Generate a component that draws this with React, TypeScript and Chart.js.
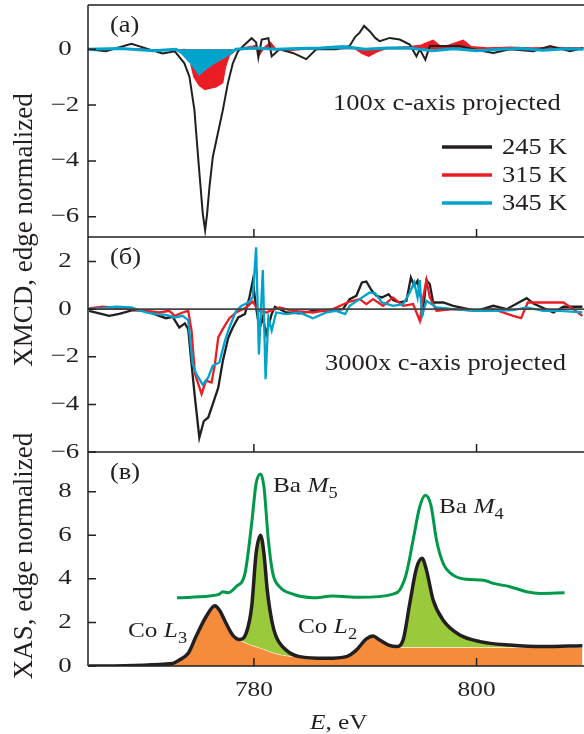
import React, { useEffect, useRef } from "react";
import { Chart, registerables } from "chart.js";
Chart.register(...registerables);

// ---------- Panel (а): XMCD, 100x c-axis projected ----------
const aE245 = [765.1,766.7,769.0,770.6,771.8,772.9,773.76,774.21,774.66,774.87,775.11,775.41,775.62,775.8,776.01,776.31,776.76,777.21,777.66,778.11,778.56,779.0,779.8,780.2,780.4,780.7,781.3,781.6,782.3,783.5,784.7,785.6,787.4,788.6,789.1,789.5,789.9,790.4,790.9,791.3,792.2,793.1,794.0,794.6,794.9,795.4,795.8,797.0,798.5,799.7,801.5,803.0,805.1,806.6,808.4,809.6];
const a245 = [0,-0.07,0.2,0,-0.15,-0.07,-0.5,-0.98,-2.18,-3.26,-4.46,-5.89,-6.49,-5.89,-4.93,-3.86,-3.02,-2.18,-1.22,-0.5,-0.08,0.1,0.4,0.25,-0.3,0.35,0.4,-0.25,0,-0.13,-0.35,0,0,0.12,0.45,0.6,0.84,0.65,0.41,0.29,0.41,0.35,0.17,-0.25,0,-0.37,0.12,0.12,0.12,0,-0.13,0,-0.07,0.12,-0.07,0.05];
const aE315 = [765.1,770.0,772.0,773.8,774.2,774.6,775.1,775.6,776.0,776.6,777.2,777.45,777.8,778.4,779.0,779.9,780.2,780.5,781.0,781.5,782.0,783.0,785.0,787.0,789.0,789.7,790.3,791.0,792.0,794.0,795.0,796.1,796.8,797.5,798.8,799.5,801.0,803.0,805.0,807.0,809.6];
const a315 = [0,0.02,-0.05,0,-0.3,-0.98,-1.3,-1.44,-1.4,-1.35,-1.2,-0.64,-0.22,-0.02,0.05,0.12,0.15,-0.2,0.1,0.25,0,-0.05,0.02,0,0.05,-0.15,-0.25,-0.1,0.05,0.1,0.15,0.33,0.1,0.15,0.33,0.1,0.05,0.08,0.05,0.07,0.05];
const aE345 = [765.1,768,771,773,773.5,774.3,775.1,775.6,776.3,777.2,777.8,778.4,780,782,784,786,788,790,792,794,796,798,800,802,804,806,808,809.6];
const a345 = [0,0.03,-0.05,0,-0.1,-0.45,-0.88,-0.7,-0.5,-0.3,-0.15,0,0.05,0,0.03,0.05,0.1,0,0.05,0.05,-0.05,0.02,-0.05,0,0.03,-0.03,0.02,0];

// ---------- Panel (б): XMCD, 3000x c-axis projected ----------
const bE245 = [765.2,767.0,767.9,769.1,770.3,771.5,772.1,772.7,773.3,773.8,774.1,774.4,774.7,775.1,775.5,775.9,776.3,776.8,777.2,777.7,778.1,778.6,779.2,779.6,779.9,780.2,780.5,780.8,781.1,781.6,781.9,782.9,784.1,785.3,786.5,788.0,788.6,789.2,789.7,790.1,790.6,791.0,791.5,792.1,792.5,793.1,793.7,794.1,794.4,794.7,795.2,795.5,795.8,796.1,797.0,797.9,800.0,801.5,802.7,804.5,805.1,806.9,807.8,809.5];
const b245 = [-0.07,-0.28,-0.2,-0.04,-0.07,-0.28,-0.38,-0.32,-0.77,-0.6,-0.84,-2.3,-3.7,-5.4,-4.7,-4.55,-4.0,-3.3,-2.2,-1.2,-0.77,-0.35,-0.2,0.5,1.2,0.07,-0.84,-0.35,-1.05,-0.2,0.1,-0.14,-0.18,-0.07,-0.07,0,0.42,0.56,1.12,1.16,0.77,0.56,0.49,0.63,0.38,0.28,0.35,1.33,0.98,1.19,0,1.22,1.05,0.28,0.28,0.14,-0.07,0.14,0,0.46,0.24,-0.14,0.1,0.1];
const bE315 = [765.2,766.4,769.1,771.5,772.4,772.9,773.6,774.1,774.4,774.7,775.3,775.7,776.2,776.5,776.8,777.2,777.8,778.4,779.3,779.9,780.4,781.1,782.3,783.5,785.3,787.1,788.6,789.5,790.1,790.7,791.6,792.5,793.4,794.3,794.9,795.2,795.5,795.8,796.4,797.9,800.0,801.5,803.3,804.0,804.6,806.0,807.8,808.7,809.5];
const b315 = [0.03,0.1,0,-0.14,-0.07,-0.28,-0.14,-0.07,-0.9,-2.7,-3.57,-3.0,-3.08,-2.3,-1.19,-0.84,-0.38,-0.14,0.07,0.32,-0.07,-0.14,0.07,-0.07,-0.14,0,0.32,0.42,0.21,0.42,0.14,0.49,0.14,0.21,-0.49,0.49,1.22,0.49,-0.07,0,-0.07,0,-0.28,-0.38,0.28,0.28,0.28,0,-0.28];
const bE345 = [765.2,766.4,767.6,769.0,770.3,771.2,772.1,772.9,773.6,774.1,774.5,774.8,775.4,775.9,776.3,776.9,777.4,777.8,778.4,778.9,779.5,779.9,780.2,780.45,780.8,781.05,781.3,781.6,782.0,782.9,784.1,785.3,786.5,787.4,788.2,788.6,789.5,790.4,790.9,791.5,792.5,793.4,794.0,794.4,794.7,794.9,795.1,795.5,796.4,797.9,800.0,801.5,803.3,804.5,806.0,807.5,809.5];
const b345 = [0,0.04,0.1,0.07,-0.14,-0.21,-0.24,-0.35,-0.28,-0.46,-2.3,-2.7,-3.17,-2.87,-2.38,-2.24,-1.33,-0.77,-0.07,0.14,0.28,0.49,2.6,-1.9,1.64,-2.94,-0.35,-0.9,-0.14,-0.21,-0.14,-0.38,-0.14,-0.07,-0.21,0.14,0.42,0.7,0.66,0.28,0.14,0.21,0.7,1.12,0.49,1.22,-0.28,0.35,0.07,0,-0.07,-0.07,-0.04,0.07,-0.07,-0.07,-0.14];

// ---------- Panel (в): XAS ----------
const cE = [765.2,772.7,773.3,774.1,774.8,775.7,776.5,776.9,777.5,778.1,778.7,779.3,779.8,780.2,780.6,780.9,781.2,781.6,782.0,782.9,784.1,786.5,788.3,789.2,790.1,790.7,791.3,792.1,792.8,793.4,794.0,794.6,795.1,795.5,796.1,797.0,798.5,800.3,803.0,806.0,809.5];
const cTotal = [0,0.12,0.28,0.58,1.35,2.26,2.77,2.57,1.96,1.42,1.22,1.5,2.72,5.17,6.0,5.17,3.49,2.1,1.35,0.73,0.43,0.35,0.43,0.73,1.24,1.38,1.19,0.96,0.89,1.19,2.87,4.48,4.94,4.4,3.03,2.1,1.42,1.12,0.96,0.89,0.93];
const cCo = [0,0.12,0.28,0.58,1.35,2.26,2.77,2.57,1.96,1.42,1.2,1.05,0.95,0.88,0.82,0.77,0.7,0.63,0.57,0.47,0.42,0.35,0.43,0.73,1.24,1.38,1.19,0.96,0.88,0.86,0.86,0.86,0.86,0.86,0.86,0.86,0.86,0.86,0.86,0.86,0.86];
const gE = [773.1,776.0,776.9,777.2,777.7,778.4,779.2,779.8,780.2,780.6,780.9,781.3,781.7,782.3,783.5,785.3,787.1,789.5,792.5,793.1,793.7,794.3,794.9,795.4,795.9,796.4,797.0,797.9,799.1,800.6,801.5,803.0,804.5,805.7,807.9];
const gBa = [3.13,3.21,3.3,3.41,3.36,3.64,4.25,6.54,8.38,8.81,8.23,5.78,4.25,3.64,3.3,3.13,3.21,3.15,3.3,3.49,4.25,5.78,7.31,7.84,7.38,5.78,4.71,4.17,3.98,3.94,3.79,3.64,3.41,3.33,3.36];

// ---------- Axes ----------
const eRange = [765.1, 809.65];
const aRange = [-6.73, 1.59];
const bRange = [-6, 3.03];
const cRange = [0, 9.82];
const eTicks = [780, 800];
const aTicks = [0, -2, -4, -6];
const bTicks = [2, 0, -2, -4, -6];
const cTicks = [0, 2, 4, 6, 8];
const seriesLabels = ["245 K", "315 K", "345 K"];

const INK = "#231f20";
const RED = "#ec1c24";
const CYAN = "#00a3cc";
const GREEN = "#00994a";
const GREEN_FILL = "#9bc93c";
const ORANGE = "#f58c3c";
const FONT = '"Liberation Serif", "Times New Roman", serif';
const SX = 1.15;

type Opt = { italic?: boolean; align?: CanvasTextAlign; baseline?: CanvasTextBaseline; sx?: number };
function drawText(ctx: CanvasRenderingContext2D, s: string, x: number, y: number, size: number, o: Opt = {}) {
  ctx.save();
  ctx.font = `${o.italic ? "italic " : ""}${size}px ${FONT}`;
  ctx.fillStyle = INK;
  ctx.textAlign = o.align ?? "left";
  ctx.textBaseline = o.baseline ?? "alphabetic";
  const sx = o.sx ?? SX;
  const w = ctx.measureText(s).width * sx;
  ctx.translate(x, y);
  ctx.scale(sx, 1);
  ctx.fillText(s, 0, 0);
  ctx.restore();
  return w;
}
// runs: [text, size, italic, dy]
function drawRuns(ctx: CanvasRenderingContext2D, runs: [string, number, boolean, number][], x: number, y: number) {
  let cx = x;
  for (const [t, s, it, dy] of runs) cx += drawText(ctx, t, cx, y + dy, s, { italic: it });
}
const fmt = (v: number) => (v < 0 ? "\u2212" + Math.abs(v) : String(v));

const overlay = {
  id: "overlay",
  afterDatasetsDraw(chart: any) {
    const ctx: CanvasRenderingContext2D = chart.ctx;
    const { left, right } = chart.chartArea;
    const sx = chart.scales.x;
    const panels = [
      { s: chart.scales.yA, ticks: aTicks, label: "(a)" },
      { s: chart.scales.yB, ticks: bTicks, label: "(\u0431)" },
      { s: chart.scales.yC, ticks: cTicks, label: "(\u0432)" },
    ];
    ctx.save();
    // zero line in panel б
    const z = chart.scales.yB.getPixelForValue(0);
    ctx.beginPath(); ctx.moveTo(left, z); ctx.lineTo(right, z); ctx.lineWidth = 1.8; ctx.strokeStyle = "#444"; ctx.stroke();
    ctx.strokeStyle = INK; ctx.lineWidth = 1.5;
    // frame
    ctx.beginPath();
    ctx.moveTo(left, panels[0].s.top); ctx.lineTo(right, panels[0].s.top);
    ctx.moveTo(left, panels[0].s.top); ctx.lineTo(left, panels[2].s.bottom);
    for (const p of panels) { ctx.moveTo(left, p.s.bottom); ctx.lineTo(right, p.s.bottom); }
    ctx.stroke();
    // ticks
    ctx.beginPath();
    for (const p of panels) {
      for (const v of p.ticks) { const y = p.s.getPixelForValue(v); ctx.moveTo(left, y); ctx.lineTo(left + 8, y); }
      for (const v of eTicks) { const x = sx.getPixelForValue(v); ctx.moveTo(x, p.s.bottom); ctx.lineTo(x, p.s.bottom - 8); }
    }
    ctx.stroke();
    ctx.restore();

    // tick labels
    for (const p of panels) {
      for (const v of p.ticks) drawText(ctx, fmt(v), 65, p.s.getPixelForValue(v), 21, { align: "center", baseline: "middle", sx: 1.28 });
      drawText(ctx, p.label, 110, p.s.top + 21, 23, { baseline: "middle" });
    }
    for (const v of eTicks) drawText(ctx, String(v), sx.getPixelForValue(v), 690, 22, { align: "center", baseline: "middle" });
    drawRuns(ctx, [["E", 22, true, 0], [", eV", 22, false, 0]], 310, 729);

    // rotated axis titles
    const rot = (s: string, cy: number) => {
      ctx.save();
      ctx.translate(32, cy);
      ctx.rotate(-Math.PI / 2);
      ctx.font = `27px ${FONT}`;
      ctx.fillStyle = INK;
      ctx.textAlign = "center";
      ctx.textBaseline = "alphabetic";
      ctx.fillText(s, 0, 0);
      ctx.restore();
    };
    rot("XMCD, edge normalized", 230);
    rot("XAS, edge normalized", 556);

    // annotations
    drawText(ctx, "100x c-axis projected", 333, 110, 23);
    drawText(ctx, "3000x c-axis projected", 325, 370, 23);
    drawRuns(ctx, [["Ba ", 22, false, 0], ["M", 22, true, 0], ["5", 16, false, 6]], 273, 492);
    drawRuns(ctx, [["Ba ", 22, false, 0], ["M", 22, true, 0], ["4", 16, false, 6]], 439, 513);
    drawRuns(ctx, [["Co ", 22, false, 0], ["L", 22, true, 0], ["3", 16, false, 6]], 128, 637);
    drawRuns(ctx, [["Co ", 22, false, 0], ["L", 22, true, 0], ["2", 16, false, 6]], 298, 633);

    // legend
    const cols = [INK, RED, CYAN];
    const ly = [147, 175, 203];
    seriesLabels.forEach((t, i) => {
      ctx.save();
      ctx.strokeStyle = cols[i]; ctx.lineWidth = 3.5;
      ctx.beginPath(); ctx.moveTo(442, ly[i]); ctx.lineTo(492, ly[i]); ctx.stroke();
      ctx.restore();
      drawText(ctx, t, 502, ly[i] + 1, 23, { baseline: "middle" });
    });
  },
};

const pts = (xs: number[], ys: number[]) => xs.map((x, i) => ({ x, y: ys[i] }));

export default function App() {
  const ref = useRef<HTMLCanvasElement>(null);
  useEffect(() => {
    const base = { pointRadius: 0, tension: 0 };
    // dataset 0 is drawn last (on top)
    const datasets: any[] = [
      { ...base, data: pts(aE345, a345), yAxisID: "yA", borderColor: CYAN, backgroundColor: CYAN, borderWidth: 3, fill: "origin" },
      { ...base, data: pts(aE245, a245), yAxisID: "yA", borderColor: INK, borderWidth: 2, fill: false },
      { ...base, data: pts(aE315, a315), yAxisID: "yA", borderColor: RED, backgroundColor: RED, borderWidth: 1.2, fill: "origin" },
      { ...base, data: pts(bE345, b345), yAxisID: "yB", borderColor: CYAN, borderWidth: 2.3, fill: false },
      { ...base, data: pts(bE315, b315), yAxisID: "yB", borderColor: RED, borderWidth: 2.3, fill: false },
      { ...base, data: pts(bE245, b245), yAxisID: "yB", borderColor: INK, borderWidth: 2.3, fill: false },
      { ...base, data: pts(cE, cTotal), yAxisID: "yC", borderColor: INK, borderWidth: 3.5, cubicInterpolationMode: "monotone", fill: { target: 7, above: GREEN_FILL, below: "rgba(0,0,0,0)" } },
      { ...base, data: pts(cE, cCo), yAxisID: "yC", borderColor: "rgba(255,255,255,0.9)", backgroundColor: ORANGE, borderWidth: 1, cubicInterpolationMode: "monotone", fill: "origin" },
      { ...base, data: pts(gE, gBa), yAxisID: "yC", borderColor: GREEN, borderWidth: 3, cubicInterpolationMode: "monotone", fill: false },
    ];
    const hidden = { ticks: { display: false }, grid: { display: false }, border: { display: false } };
    const yScale = (r: number[], w: number) => ({
      type: "linear", position: "left", stack: "panels", stackWeight: w, min: r[0], max: r[1], offset: false, ...hidden,
      afterFit: (s: any) => { s.width = 88; },
    });
    // stacked left scales: the last one defined is placed at the top
    const chart = new Chart(ref.current!, {
      type: "line",
      data: { datasets },
      options: {
        responsive: false,
        animation: false,
        devicePixelRatio: 1,
        events: [],
        layout: { padding: { top: 5, left: 0, right: 0, bottom: 0 } },
        plugins: { legend: { display: false }, tooltip: { enabled: false } },
        scales: {
          x: { type: "linear", position: "bottom", min: eRange[0], max: eRange[1], ...hidden, afterFit: (s: any) => { s.height = 68; } },
          yC: yScale(cRange, 214),
          yB: yScale(bRange, 215),
          yA: yScale(aRange, 232),
        } as any,
      },
      plugins: [overlay],
    } as any);
    return () => chart.destroy();
  }, []);
  return (
    <div style={{ position: "absolute", left: 0, top: 0, width: 584, height: 734, background: "#fff" }}>
      <canvas ref={ref} width={584} height={734} style={{ display: "block", width: 584, height: 734 }} />
    </div>
  );
}
